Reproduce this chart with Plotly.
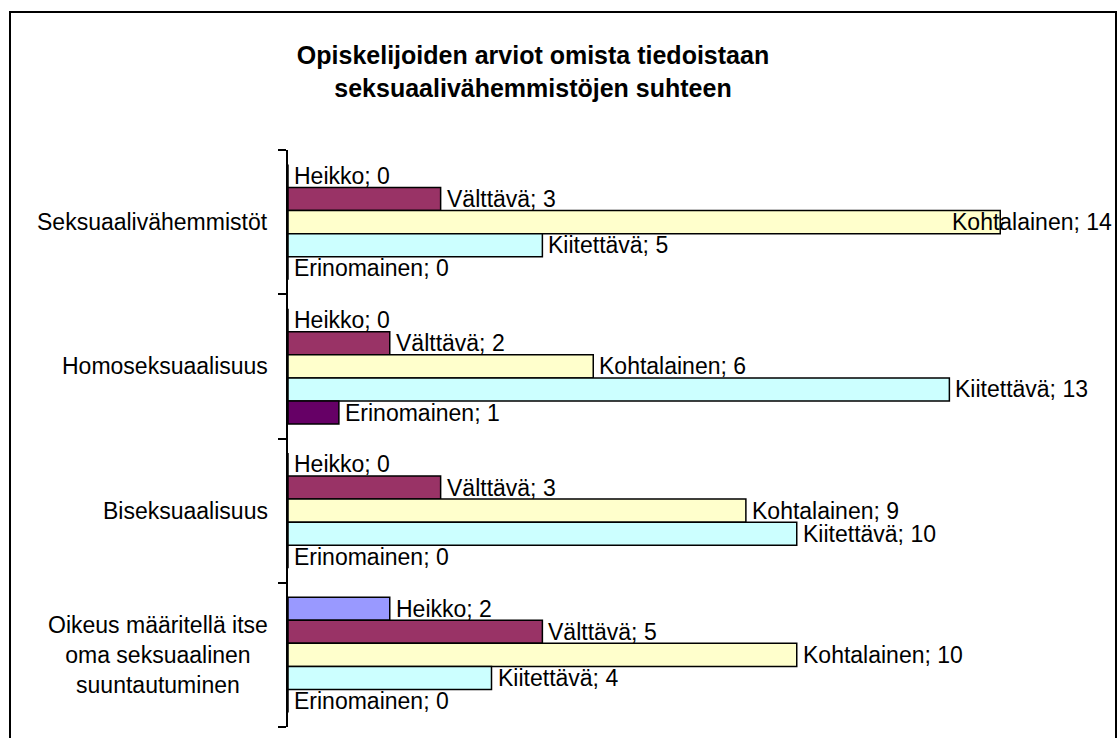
import plotly.graph_objects as go

# ---- data ----
categories = [
    "Seksuaalivähemmistöt",
    "Homoseksuaalisuus",
    "Biseksuaalisuus",
    "Oikeus määritellä itse<br>oma seksuaalinen<br>suuntautuminen",
]
series_names = ["Heikko", "Välttävä", "Kohtalainen", "Kiitettävä", "Erinomainen"]
heikko = [0, 0, 0, 2]
valttava = [3, 2, 3, 5]
kohtalainen = [14, 6, 9, 10]
kiitettava = [5, 13, 10, 4]
erinomainen = [0, 1, 0, 0]
series_values = [heikko, valttava, kohtalainen, kiitettava, erinomainen]
colors = ["#9999FF", "#993366", "#FFFFCC", "#CCFFFF", "#660066"]
title_text = "<b>Opiskelijoiden arviot omista tiedoistaan<br>seksuaalivähemmistöjen suhteen</b>"

# ---- layout geometry ----
W, H = 1117, 738
L, R, T, B = 288, 15, 150, 11
XMAX = 16
FONT = "Arial, Liberation Sans, sans-serif"
FS = 23
plot_w = W - L - R
plot_h = H - T - B
px_per_unit = plot_w / XMAX
bargap = 0.2
nser = len(series_names)
slot = (1 - bargap) / nser

fig = go.Figure()
cat_idx = list(range(len(categories)))
for name, vals, col in zip(series_names, series_values, colors):
    fig.add_trace(go.Bar(
        x=vals, y=cat_idx, name=name, orientation="h",
        marker=dict(color=col, line=dict(color="black", width=1.5)),
        showlegend=False, hoverinfo="x+name",
    ))

annotations = []
# data labels
border_right_px = W - 3
for i, (name, vals) in enumerate(zip(series_names, series_values)):
    for j, v in enumerate(vals):
        txt = f"{name}; {v}"
        est_w = len(txt) * 0.48 * FS
        end_px = L + v * px_per_unit
        ypos = j + (i - (nser - 1) / 2) * slot
        if end_px + 6 + est_w > border_right_px:
            annotations.append(dict(
                x=(border_right_px - L) / plot_w, xref="paper", y=ypos, yref="y",
                text=txt, showarrow=False, xanchor="right", yanchor="middle",
                font=dict(family=FONT, size=FS, color="black"),
            ))
        else:
            annotations.append(dict(
                x=v, xref="x", y=ypos, yref="y", text=txt, showarrow=False,
                xanchor="left", yanchor="middle", xshift=4,
                font=dict(family=FONT, size=FS, color="black"),
            ))
# category labels (centered multi-line, right edge near axis)
for j, c in enumerate(categories):
    annotations.append(dict(
        x=0, xref="x", y=j, yref="y", text=c, showarrow=False,
        xanchor="right", yanchor="middle", align="center", xshift=-18,
        font=dict(family=FONT, size=FS, color="black"),
    ))

# outer chart border
bx0 = (10 - L) / plot_w
bx1 = (1116 - L) / plot_w
by1 = (H - B - 12) / plot_h
by0 = (H - B - 760) / plot_h

boundaries = [k - 0.5 for k in range(len(categories) + 1)]

fig.update_layout(
    width=W, height=H,
    margin=dict(l=L, r=R, t=T, b=B, pad=0),
    paper_bgcolor="white", plot_bgcolor="white",
    barmode="group", bargap=bargap, bargroupgap=0,
    title=dict(text=title_text, x=533 / W, xanchor="center", xref="container",
               y=1 - 64 / H, yanchor="top", yref="container",
               font=dict(family=FONT, size=25, color="black")),
    xaxis=dict(range=[0, XMAX], visible=False, showgrid=False, zeroline=False),
    yaxis=dict(range=[len(categories) - 0.5, -0.5], showgrid=False, zeroline=False,
               showline=True, linecolor="black", linewidth=2,
               ticks="outside", ticklen=8, tickwidth=1.5, tickcolor="black",
               tickmode="array", tickvals=boundaries,
               showticklabels=False, type="linear"),
    annotations=annotations,
    shapes=[dict(type="rect", xref="paper", yref="paper", x0=bx0, x1=bx1, y0=by0, y1=by1,
                 line=dict(color="black", width=2), fillcolor="rgba(0,0,0,0)", layer="below")],
)

fig.write_html("out.html", config={"displayModeBar": False},
               post_script="document.body.style.margin='0';")
